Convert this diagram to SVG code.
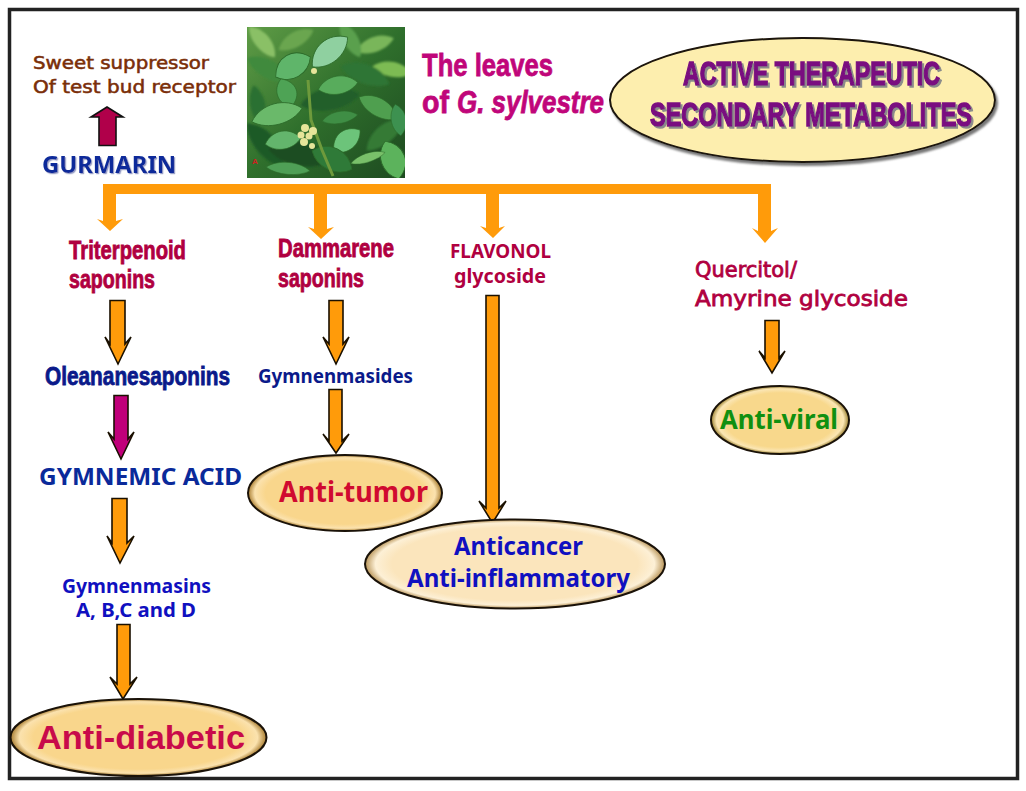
<svg xmlns="http://www.w3.org/2000/svg" width="1026" height="791" viewBox="0 0 1026 791">
<style>
text{font-family:"Liberation Sans",Arial,sans-serif;font-weight:bold;fill:currentColor;stroke:currentColor;stroke-width:0}
.v{font-family:"DejaVu Sans",Verdana,sans-serif;font-weight:normal;stroke-width:.55}
.n{font-family:"Noto Sans","Liberation Sans",sans-serif}
.h{stroke-width:.8}
.t{stroke-width:1}
.red{color:#b00040}
.brown{color:#7a2e08}
.pink{color:#c0067a}
.navy{color:#0a1a8a}
.blue{color:#1010c0}
.arrow{fill:#ff9b0a;stroke:#1a1000;stroke-width:1.6;stroke-linejoin:miter}
.bus{fill:#ff9b0a}
.oval{stroke:#1a1208;stroke-width:2}
.leaf{stroke:#2c6b2a;stroke-width:.6}
</style>
<defs>
<radialGradient id="g1" cx=".5" cy=".5" r=".5"><stop offset=".82" stop-color="#f9d68c"/><stop offset=".93" stop-color="#fbe2ae"/><stop offset="1" stop-color="#a87c30"/></radialGradient>
<radialGradient id="g2" cx=".5" cy=".5" r=".5"><stop offset=".82" stop-color="#fbe5bc"/><stop offset=".93" stop-color="#fdf0d6"/><stop offset="1" stop-color="#b89458"/></radialGradient>
<radialGradient id="g3" cx=".5" cy=".5" r=".5"><stop offset=".8" stop-color="#f8d88c"/><stop offset=".92" stop-color="#fbe6b4"/><stop offset="1" stop-color="#9a8030"/></radialGradient>
<linearGradient id="bg" x1="0" y1="0" x2="1" y2="1"><stop offset="0" stop-color="#5f9c46"/><stop offset=".5" stop-color="#2f6f2c"/><stop offset="1" stop-color="#1d4a20"/></linearGradient>
<filter id="sh" filterUnits="userSpaceOnUse" x="0" y="0" width="1026" height="791"><feDropShadow dx="2" dy="2" stdDeviation=".4" flood-color="#8a8a8a"/></filter>
<filter id="sh2" filterUnits="userSpaceOnUse" x="0" y="0" width="1026" height="791"><feDropShadow dx="1.2" dy="1.2" stdDeviation=".5" flood-color="#9aa0c8"/></filter>
<filter id="ov" filterUnits="userSpaceOnUse" x="0" y="0" width="1026" height="791"><feDropShadow dx="2" dy="3" stdDeviation="1" flood-color="#777"/></filter>
<filter id="bl"><feGaussianBlur stdDeviation="1.2"/></filter>
<path id="lf" d="M-20 0C-10-11 10-11 20 0C10 9-10 9-20 0Z"/>
</defs>
<rect x="9.500" y="9.500" width="1008" height="769" fill="#fff" stroke="#222" stroke-width="3.500"/>

<g id="photo">
<rect x="247" y="27" width="158" height="151" fill="url(#bg)"/>
<svg x="247" y="27" width="158" height="151" viewBox="247 27 158 151">
<g filter="url(#bl)">
<use href="#lf" fill="#8ac066" transform="translate(262 42) rotate(50)"/><use href="#lf" fill="#79b65a" transform="translate(375 45) rotate(-20)"/><use href="#lf" fill="#7dbb52" transform="translate(392 70) rotate(10)"/><use href="#lf" fill="#3f8a3c" transform="translate(268 70) rotate(30) scale(1.2)"/><use href="#lf" fill="#6aa650" transform="translate(296 40) rotate(-30)"/><use href="#lf" fill="#2f7534" transform="translate(365 75) rotate(20) scale(1.3)"/><use href="#lf" fill="#245f2a" transform="translate(330 100) rotate(-10) scale(1.5)"/><use href="#lf" fill="#1f5a28" transform="translate(265 145) rotate(50) scale(1.4)"/><use href="#lf" fill="#347a36" transform="translate(385 135) rotate(-40) scale(1.2)"/><use href="#lf" fill="#1c4d22" transform="translate(300 155) rotate(10) scale(1.6)"/><use href="#lf" fill="#5aa04e" transform="translate(350 40) rotate(60)"/><use href="#lf" fill="#2c6f30" transform="translate(257 105) rotate(80)"/>
</g>
<g class="leaf">
<use href="#lf" fill="#8fd0a0" transform="translate(330 52) rotate(-40) scale(1.15 1.5)"/>
<use href="#lf" fill="#5fb56a" transform="translate(293 67) rotate(-30) scale(1 1.6)"/>
<use href="#lf" fill="#4ea355" transform="translate(286 93) rotate(70) scale(.75 1.3)"/>
<use href="#lf" fill="#58ac5c" transform="translate(338 86) rotate(-10) scale(1 1.2)"/>
<use href="#lf" fill="#6ab96a" transform="translate(277 115) rotate(-15) scale(1.3 1.4)"/>
<use href="#lf" fill="#4f9f4f" transform="translate(378 108) rotate(30) scale(1.1 1.2)"/>
<use href="#lf" fill="#3f8e45" transform="translate(340 118) rotate(-10) scale(.9 .8)"/>
<use href="#lf" fill="#63b56c" transform="translate(283 141) rotate(-10) scale(.9 1.2)"/>
<use href="#lf" fill="#6cc47a" transform="translate(347 141) rotate(-40) scale(.85 1.3)"/>
<use href="#lf" fill="#2f7a38" transform="translate(332 160) rotate(25) scale(1.1 1.5)"/>
<use href="#lf" fill="#5cb35c" transform="translate(392 160) rotate(70) scale(1 1.6)"/>
<use href="#lf" fill="#79c06a" transform="translate(368 158) rotate(-18) scale(.9 .6)"/>
<use href="#lf" fill="#4f9f56" transform="translate(288 169) rotate(5) scale(1.1 .8)"/>
<use href="#lf" fill="#3d9150" transform="translate(398 120) rotate(80) scale(.8 1)"/>
</g>
<path d="M308 80L311 120L322 150L333 176" fill="none" stroke="#6e9a3c" stroke-width="3"/>
<g fill="#e6e59a"><circle cx="305" cy="128" r="4"/><circle cx="313" cy="131" r="4"/><circle cx="301" cy="135" r="3.500"/><circle cx="304" cy="142" r="4"/><circle cx="312" cy="146" r="3"/><circle cx="314" cy="71" r="3"/><circle cx="309" cy="136" r="3.500"/></g>
</svg>
<text x="252" y="164" font-size="8" style="color:#d02020">A</text>
</g>

<g id="connectors">
<path class="bus" d="M103 184H771V231L778 228L765 243L752 228L758 231V194H499V228L505 226L493 238L480 226L486 228V194H327V229L334 227L321 239L308 227L314 229V194H116V221L123 219L110 231L97 219L103 221Z"/>
<path d="M99 145.500V117H91L107 107L123 117H116V145.500Z" fill="#b0004a" stroke="#111" stroke-width="1.600"/>
<path class="arrow" d="M110 300.500H125V344L131 337L118 364L105 337L110 344Z"/>
<path d="M114 395.500H128V439L134 432L121 459L108 432L114 439Z" fill="#c0007a" stroke="#1a1000" stroke-width="1.600"/>
<path class="arrow" d="M112 498.500H127V543L134 536L120 563L107 536L112 543Z"/>
<path class="arrow" d="M117 624.500H130V684L137 677L123 699L110 677L117 684Z"/>
<path class="arrow" d="M329 300.500H343V344L349 337L336 364L323 337L329 344Z"/>
<path class="arrow" d="M329 389.500H342V441L349 434L336 453L323 434L329 441Z"/>
<path class="arrow" d="M486 295.500H499V508L506 501L492.500 523L479 501L486 508Z"/>
<path class="arrow" d="M765 320.500H779V358L785 351L772 373L759 351L765 358Z"/>
</g>

<g id="sweet"><text class="v brown" x="33" y="69" font-size="18" textLength="176" lengthAdjust="spacingAndGlyphs">Sweet suppressor</text>
<text class="v brown" x="33" y="93" font-size="18" textLength="203" lengthAdjust="spacingAndGlyphs">Of test bud receptor</text></g>
<g id="gurmarin"><text class="n" x="42" y="173" font-size="24" style="color:#0a2a9a" filter="url(#sh2)" textLength="134" lengthAdjust="spacingAndGlyphs">GURMARIN</text></g>

<g id="leaves-caption"><text class="pink h" x="422" y="76" font-size="32" textLength="131" lengthAdjust="spacingAndGlyphs">The leaves</text>
<text class="pink h" x="422" y="113" font-size="32" textLength="27" lengthAdjust="spacingAndGlyphs">of</text>
<text class="pink h" x="457" y="113" font-size="32" font-style="italic" textLength="147" lengthAdjust="spacingAndGlyphs">G. sylvestre</text></g>

<g id="title"><ellipse class="oval" filter="url(#ov)" cx="802.500" cy="100" rx="192.500" ry="62" fill="#fdeeae"/>
<g filter="url(#sh)" style="color:#7a0a80">
<text class="t" transform="translate(683 85) scale(1 1.5)" font-size="22" textLength="257" lengthAdjust="spacingAndGlyphs">ACTIVE THERAPEUTIC</text>
<text class="t" transform="translate(650 126) scale(1 1.5)" font-size="22" textLength="322" lengthAdjust="spacingAndGlyphs">SECONDARY METABOLITES</text>
</g></g>

<g id="triterpenoid"><text class="red h" x="69" y="259" font-size="25" textLength="117" lengthAdjust="spacingAndGlyphs">Triterpenoid</text>
<text class="red h" x="69" y="288" font-size="25" textLength="86" lengthAdjust="spacingAndGlyphs">saponins</text></g>
<g id="dammarene"><text class="red h" x="278" y="257" font-size="25" textLength="116" lengthAdjust="spacingAndGlyphs">Dammarene</text>
<text class="red h" x="278" y="287" font-size="25" textLength="86" lengthAdjust="spacingAndGlyphs">saponins</text></g>
<g id="flavonol"><text class="red n" x="450" y="258" font-size="19" textLength="101" lengthAdjust="spacingAndGlyphs">FLAVONOL</text>
<text class="red n" x="454" y="283" font-size="19" textLength="92" lengthAdjust="spacingAndGlyphs">glycoside</text></g>
<g id="quercitol"><text class="v red" x="695" y="277" font-size="21" style="stroke-width:.8" textLength="102" lengthAdjust="spacingAndGlyphs">Quercitol/</text>
<text class="v red" x="695" y="306" font-size="21" style="stroke-width:.8" textLength="213" lengthAdjust="spacingAndGlyphs">Amyrine glycoside</text></g>
<g id="oleanane"><text class="navy h" x="45" y="385" font-size="25" textLength="185" lengthAdjust="spacingAndGlyphs">Oleananesaponins</text></g>
<g id="gymnemic"><text class="n" x="39" y="485" font-size="23" style="color:#0a2a9a" textLength="203" lengthAdjust="spacingAndGlyphs">GYMNEMIC ACID</text></g>
<g id="gymnenmasins"><text class="n blue" x="62" y="593" font-size="19" textLength="149" lengthAdjust="spacingAndGlyphs">Gymnenmasins</text>
<text class="n blue" x="76" y="617" font-size="19" textLength="120" lengthAdjust="spacingAndGlyphs">A, B,C and D</text></g>
<g id="gymnenmasides"><text class="n navy" x="258" y="383" font-size="19" textLength="155" lengthAdjust="spacingAndGlyphs">Gymnenmasides</text></g>

<g id="anti-diabetic"><ellipse class="oval" cx="138.500" cy="737.500" rx="128" ry="38.500" fill="url(#g1)"/>
<text x="37" y="749" font-size="34" style="color:#c80a4a" textLength="208" lengthAdjust="spacingAndGlyphs">Anti-diabetic</text></g>
<g id="anti-tumor"><ellipse class="oval" cx="345" cy="493" rx="97" ry="38" fill="url(#g1)"/>
<text class="n" x="279" y="502" font-size="28" style="color:#d00a30" textLength="149" lengthAdjust="spacingAndGlyphs">Anti-tumor</text></g>
<g id="anticancer"><ellipse class="oval" cx="515" cy="564" rx="150" ry="44.500" fill="url(#g2)"/>
<text class="n blue" x="454" y="555" font-size="25" textLength="129" lengthAdjust="spacingAndGlyphs">Anticancer</text>
<text class="n blue" x="407" y="587" font-size="25" textLength="223" lengthAdjust="spacingAndGlyphs">Anti-inflammatory</text></g>
<g id="anti-viral"><ellipse class="oval" cx="780" cy="420" rx="69" ry="34" fill="url(#g3)"/>
<text class="n" x="720" y="429" font-size="26" style="color:#109010" textLength="118" lengthAdjust="spacingAndGlyphs">Anti-viral</text></g>
</svg>
